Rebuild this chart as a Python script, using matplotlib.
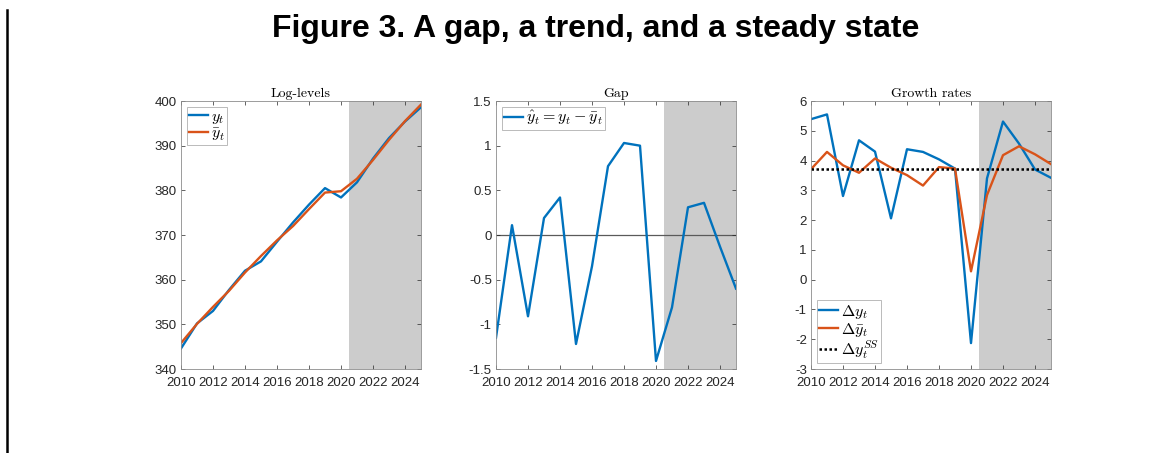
import matplotlib
matplotlib.use("Agg")
import matplotlib.pyplot as plt
from matplotlib.lines import Line2D

plt.rcParams["mathtext.fontset"] = "cm"
plt.rcParams["font.family"] = ["Liberation Sans", "DejaVu Sans"]

years = list(range(2010, 2026))

# log-levels: output and trend
y_level = [344.6, 350.2, 353.0, 357.7, 362.0, 364.1, 368.5, 372.8,
           376.8, 380.5, 378.4, 381.8, 387.1, 391.7, 395.4, 398.6]
ybar_level = [345.8, 350.1, 353.9, 357.5, 361.6, 365.3, 368.8, 372.0,
              375.8, 379.5, 379.8, 382.6, 386.8, 391.3, 395.5, 399.2]

# output gap
gap = [-1.15, 0.11, -0.91, 0.19, 0.42, -1.22, -0.35, 0.77,
       1.03, 1.00, -1.41, -0.81, 0.31, 0.36, -0.13, -0.60]

# growth rates
dy = [5.39, 5.55, 2.81, 4.68, 4.30, 2.06, 4.38, 4.29,
      4.04, 3.73, -2.13, 3.40, 5.31, 4.57, 3.70, 3.42]
dybar = [3.71, 4.29, 3.84, 3.59, 4.07, 3.76, 3.51, 3.16,
         3.78, 3.73, 0.28, 2.84, 4.18, 4.48, 4.21, 3.88]
dy_ss = 3.71

forecast_start = 2020.5
x_ticks = list(range(2010, 2025, 2))

BLUE = "#0072BD"
ORANGE = "#D95319"
SHADE = "#cccccc"
AXCOL = "#262626"

fig = plt.figure(figsize=(11.7, 4.53), dpi=100)

fig.text(0.509, 0.935, "Figure 3. A gap, a trend, and a steady state",
         ha="center", va="center", fontsize=23, fontweight="bold",
         family="Liberation Sans")
fig.add_artist(Line2D([7 / 1170, 7 / 1170], [0, 1 - 10 / 453],
                      color="black", lw=1.8, transform=fig.transFigure))

lefts = [181, 496, 811]
W, B, H = 240, 369, 268


def make_axes(i):
    ax = fig.add_axes([lefts[i] / 1170, 1 - B / 453, W / 1170, H / 453])
    ax.set_xlim(2010, 2025)
    ax.set_xticks(x_ticks)
    ax.axvspan(forecast_start, 2025, color=SHADE, lw=0, zorder=0)
    ax.tick_params(direction="in", top=True, right=True, length=3,
                   width=0.5, labelsize=9.5, colors=AXCOL, pad=3)
    ax.tick_params(axis="x", pad=5.5)
    for s in ax.spines.values():
        s.set_color("#8c8c8c")
        s.set_linewidth(0.6)
        s.set_zorder(5)
    return ax


def legend(ax, loc, **kw):
    leg = ax.legend(loc=loc, fontsize=11.5, frameon=True, fancybox=False,
                    edgecolor="#b0b0b0", framealpha=1, handlelength=1.2,
                    handletextpad=0.15, borderpad=0.15, labelspacing=0.0,
                    borderaxespad=0.35, **kw)
    leg.get_frame().set_linewidth(0.6)
    return leg


# Log-levels
ax1 = make_axes(0)
ax1.plot(years, y_level, color=BLUE, lw=1.7, label=r"$y_t$")
ax1.plot(years, ybar_level, color=ORANGE, lw=1.7, label=r"$\bar{y}_t$")
ax1.set_ylim(340, 400)
ax1.set_yticks(range(340, 401, 10))
ax1.set_title("Log-levels", fontsize=10, family="cmr10", pad=3)
legend(ax1, "upper left")

# Gap
ax2 = make_axes(1)
ax2.axhline(0, color="#5a5a5a", lw=0.9, zorder=1)
ax2.plot(years, gap, color=BLUE, lw=1.7, label=r"$\hat{y}_t = y_t - \bar{y}_t$")
ax2.set_ylim(-1.5, 1.5)
ax2.set_yticks([-1.5, -1, -0.5, 0, 0.5, 1, 1.5])
ax2.set_yticklabels(["-1.5", "-1", "-0.5", "0", "0.5", "1", "1.5"])
ax2.set_title("Gap", fontsize=10, family="cmr10", pad=3)
legend(ax2, "upper left")

# Growth rates
ax3 = make_axes(2)
ax3.plot(years, dy, color=BLUE, lw=1.7, label=r"$\Delta y_t$")
ax3.plot(years, dybar, color=ORANGE, lw=1.7, label=r"$\Delta \bar{y}_t$")
ax3.axhline(dy_ss, color="black", lw=1.8, ls=(0, (1, 1)),
            label=r"$\Delta y_t^{SS}$", zorder=3)
ax3.set_ylim(-3, 6)
ax3.set_yticks(range(-3, 7))
ax3.set_yticklabels([str(v) for v in range(-3, 7)])
ax3.set_title("Growth rates", fontsize=10, family="cmr10", pad=3)
legend(ax3, "lower left")

fig.savefig("out.png", dpi=100)
